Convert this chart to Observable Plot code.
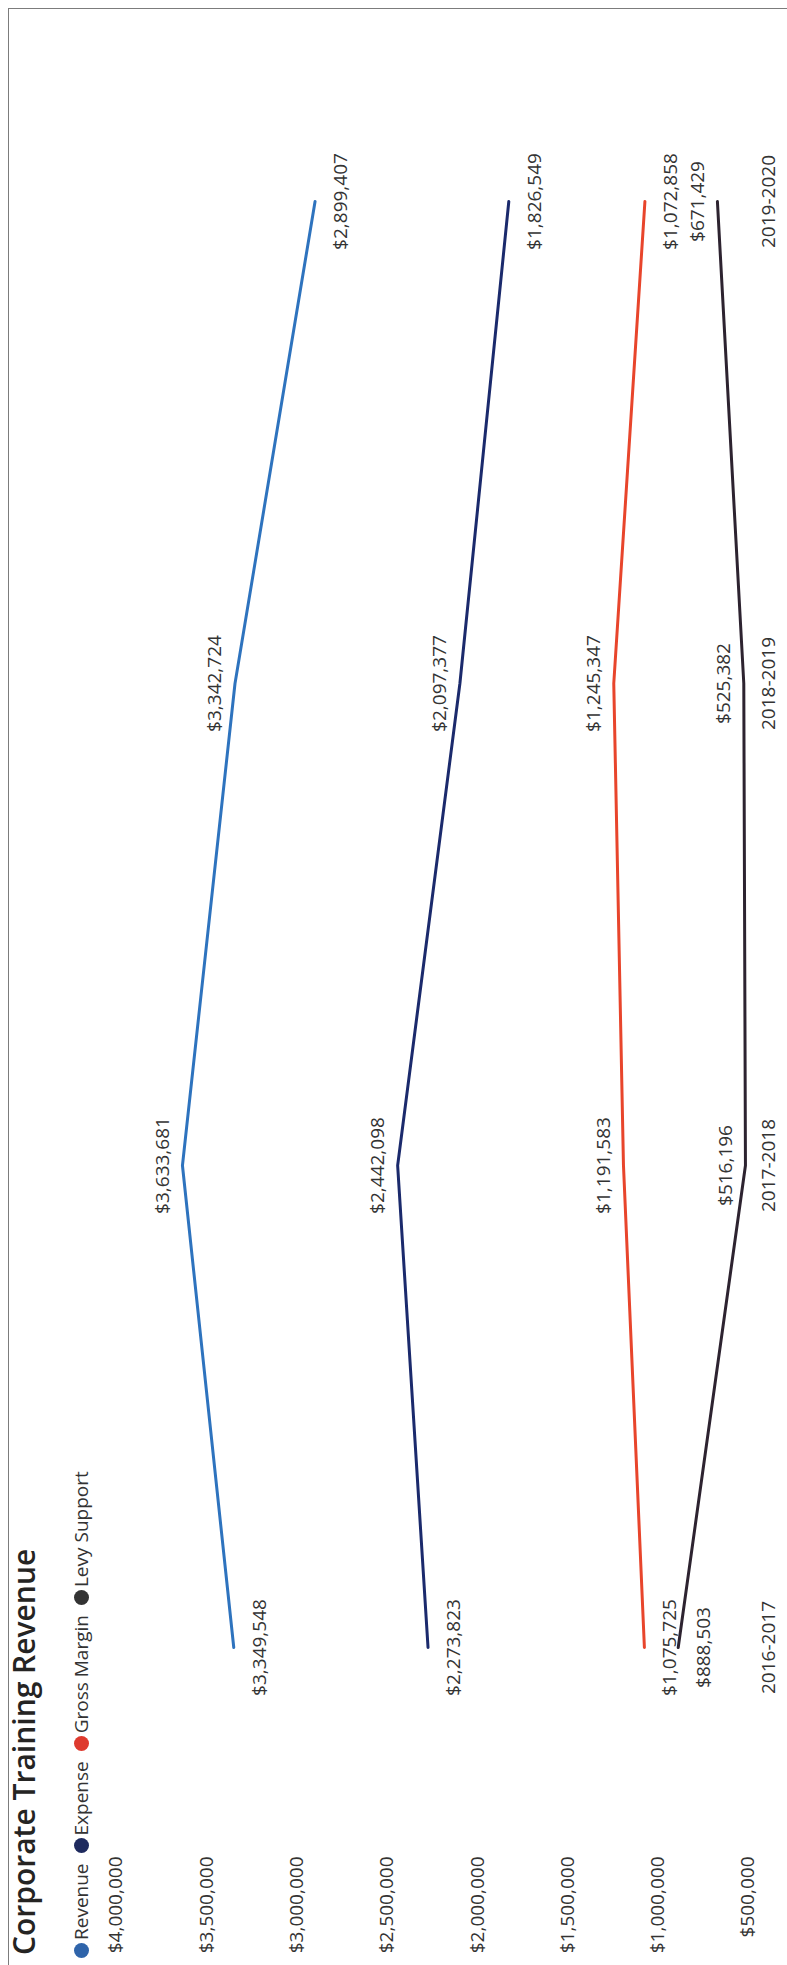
<!DOCTYPE html>
<html>
<head>
<meta charset="utf-8">
<script src="https://cdn.jsdelivr.net/npm/d3@7"></script>
<script src="https://cdn.jsdelivr.net/npm/@observablehq/plot@0.6"></script>
<style>
  html, body { margin: 0; padding: 0; background: #fff; overflow: hidden; }
  body { width: 787px; height: 1965px; position: relative; }
  #chart {
    position: absolute; left: 0; top: 0; width: 1965px; height: 787px;
    transform-origin: 0 0; transform: translate(0, 1965px) rotate(-90deg);
    font-family: "Open Sans", sans-serif; background: #fff; overflow: hidden;
  }
  #frame {
    position: absolute; left: -2px; top: 8px; width: 1958px; height: 800px;
    border-top: 1.5px solid #7c7c7c; border-right: 1.5px solid #7c7c7c;
  }
  #title {
    position: absolute; left: 10px; top: 9px; font-size: 30px; line-height: 30px;
    font-weight: 600; color: #252423; white-space: nowrap;
  }
  #legend {
    position: absolute; left: 7px; top: 72px; display: flex; align-items: center;
    font-size: 19px; line-height: 19px; color: #333; white-space: nowrap;
  }
  .item { display: flex; align-items: center; margin-right: 10px; }
  .dot { width: 15px; height: 15px; border-radius: 50%; margin-right: 3px; }
  #plot { position: absolute; left: 0; top: 95px; }
</style>
</head>
<body>
<div id="chart">
  <div id="frame"></div>
  <div id="title">Corporate Training Revenue</div>
  <div id="legend"></div>
  <div id="plot"></div>
</div>
<script>
// ---- data ----
const years = ["2016-2017", "2017-2018", "2018-2019", "2019-2020"];
const seriesNames = ["Revenue", "Expense", "Gross Margin", "Levy Support"];
const revenue = [3349548, 3633681, 3342724, 2899407];
const expense = [2273823, 2442098, 2097377, 1826549];
const grossMargin = [1075725, 1191583, 1245347, 1072858];
const levySupport = [888503, 516196, 525382, 671429];
const yTicks = [500000, 1000000, 1500000, 2000000, 2500000, 3000000, 3500000, 4000000];

// ---- styling ----
const colors = ["#2E73BE", "#1B2A6C", "#E8452C", "#2D2330"];
const legendColors = ["#2F64AA", "#1E2A5E", "#DE3A2E", "#333333"];

const values = [revenue, expense, grossMargin, levySupport];
const rows = [];
seriesNames.forEach((s, k) => years.forEach((yr, i) => rows.push({series: s, year: yr, value: values[k][i], i})));

// label placement as in the original (above for middle points, below for ends)
const above = d => d.i === 1 || d.i === 2 || (d.series === "Levy Support" && d.i === 3);
const fmt = d3.format("$,");

// legend
const legend = document.getElementById("legend");
seriesNames.forEach((s, k) => {
  const it = document.createElement("div");
  it.className = "item";
  it.innerHTML = `<span class="dot" style="background:${legendColors[k]}"></span><span>${s}</span>`;
  legend.appendChild(it);
});

const plot = Plot.plot({
  width: 1965,
  height: 692,
  marginLeft: 115,
  marginRight: 0,
  marginTop: 20.8,
  marginBottom: 30.1,
  style: {fontFamily: "'Open Sans', sans-serif", fontSize: "19px", color: "#333", background: "transparent"},
  x: {type: "point", domain: years, range: [317, 1763], padding: 0},
  y: {domain: [450000, 4000000]},
  color: {domain: seriesNames, range: colors},
  marks: [
    Plot.axisY({ticks: yTicks, tickFormat: fmt, tickSize: 0, tickPadding: 7, label: null, fontSize: 19, fill: "#333"}),
    Plot.axisX({tickSize: 0, tickPadding: 4, label: null, fontSize: 19, fill: "#333"}),
    Plot.line(rows, {x: "year", y: "value", z: "series", stroke: "series", strokeWidth: 3}),
    Plot.text(rows.filter(above), {x: "year", y: "value", text: d => fmt(d.value), dy: -20, lineAnchor: "middle", fontSize: 19, fill: "#333"}),
    Plot.text(rows.filter(d => !above(d)), {x: "year", y: "value", text: d => fmt(d.value), dy: 26, lineAnchor: "middle", fontSize: 19, fill: "#333"})
  ]
});
document.getElementById("plot").appendChild(plot);
</script>
</body>
</html>
